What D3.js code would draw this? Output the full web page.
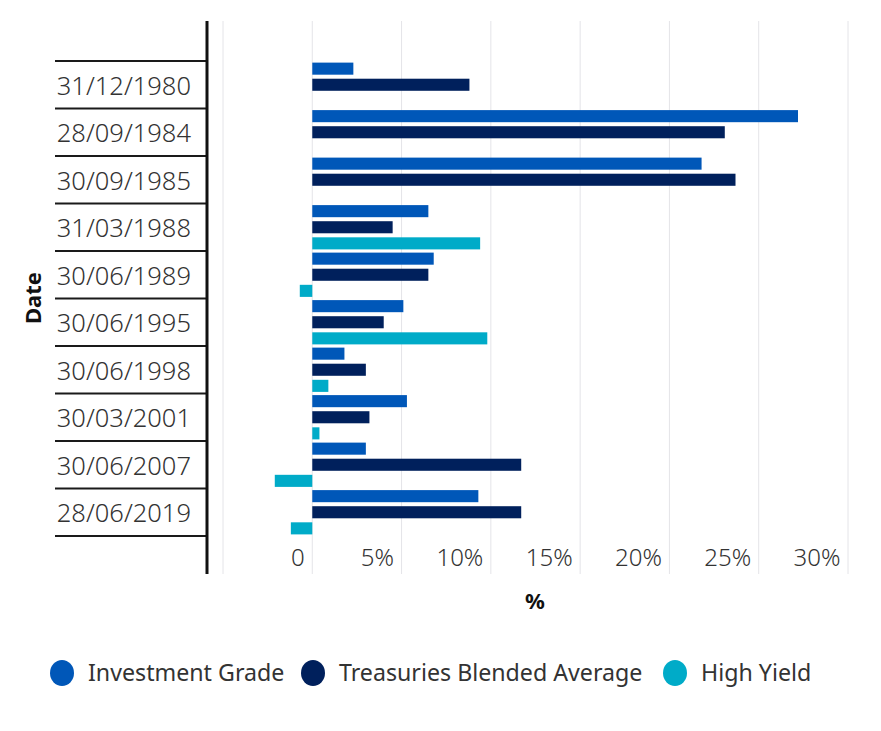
<!DOCTYPE html>
<html>
<head>
<meta charset="utf-8">
<script src="https://cdn.jsdelivr.net/npm/d3@7"></script>
<style>
  html, body { margin: 0; padding: 0; background: #fff; }
  svg { display: block; }
</style>
</head>
<body>
<svg id="chart" width="881" height="731"></svg>
<script>
// ---- data ----
const categories = ["31/12/1980","28/09/1984","30/09/1985","31/03/1988","30/06/1989","30/06/1995","30/06/1998","30/03/2001","30/06/2007","28/06/2019"];
const seriesNames = ["Investment Grade","Treasuries Blended Average","High Yield"];
const investmentGrade = [2.3, 27.2, 21.8, 6.5, 6.8, 5.1, 1.8, 5.3, 3.0, 9.3];
const treasuriesBlended = [8.8, 23.1, 23.7, 4.5, 6.5, 4.0, 3.0, 3.2, 11.7, 11.7];
const highYield = [null, null, null, 9.4, -0.7, 9.8, 0.9, 0.4, -2.1, -1.2];
const xTickValues = [0, 5, 10, 15, 20, 25, 30];
const xTickLabels = ["0", "5%", "10%", "15%", "20%", "25%", "30%"];
const gridValues = [-5, 0, 5, 10, 15, 20, 25, 30];
const colors = ["#0057b8", "#00205c", "#00abc8"];

const seriesValues = [investmentGrade, treasuriesBlended, highYield];

const svg = d3.select("#chart");
const FONT = "'Noto Sans', sans-serif";

const x = d3.scaleLinear().domain([-5, 30]).range([223, 848]);
const y = d3.scaleBand().domain(categories).range([61, 536]).padding(0);
const ySub = d3.scaleBand().domain(seriesNames).range([0, y.bandwidth()])
  .paddingInner(0.25).paddingOuter(0.1);

const plotTop = 21, plotBottom = 574;

// gridlines
svg.append("g").selectAll("line").data(gridValues).join("line")
  .attr("x1", d => x(d)).attr("x2", d => x(d))
  .attr("y1", plotTop).attr("y2", plotBottom)
  .attr("stroke", "#e4e4e8").attr("stroke-width", 1);

// bars
const gBars = svg.append("g");
seriesNames.forEach((name, si) => {
  gBars.append("g").selectAll("rect")
    .data(categories.map((c, i) => ({ c, v: seriesValues[si][i] })).filter(d => d.v !== null))
    .join("rect")
    .attr("x", d => x(Math.min(0, d.v)))
    .attr("width", d => Math.abs(x(d.v) - x(0)))
    .attr("y", d => y(d.c) + ySub(name))
    .attr("height", ySub.bandwidth())
    .attr("fill", colors[si]);
});

// x axis tick labels
const xAxis = d3.axisBottom(x).tickValues(xTickValues)
  .tickFormat((d, i) => xTickLabels[i]).tickSize(0);
const gx = svg.append("g").attr("transform", `translate(0, 558)`).call(xAxis);
gx.select(".domain").remove();
gx.selectAll("text")
  .attr("text-anchor", "end")
  .attr("dx", -8)
  .attr("dy", "0.35em")
  .attr("y", 0)
  .attr("fill", "#333")
  .style("font-family", FONT)
  .style("font-weight", 300)
  .style("font-size", "24px");

// y axis: category separators and labels
const sepVals = categories.map(c => y(c)).concat([y.range()[1]]);
svg.append("g").selectAll("line").data(sepVals).join("line")
  .attr("x1", 55).attr("x2", 207)
  .attr("y1", d => d).attr("y2", d => d)
  .attr("stroke", "#1a1a1a").attr("stroke-width", 2);

const yAxis = d3.axisLeft(y).tickSize(0);
const gy = svg.append("g").attr("transform", "translate(191,2)").call(yAxis);
gy.select(".domain").remove();
gy.selectAll("text")
  .attr("x", 0)
  .attr("fill", "#333")
  .style("font-family", FONT)
  .style("font-weight", 300)
  .style("font-size", "25.5px");

// vertical axis line
svg.append("line")
  .attr("x1", 207).attr("x2", 207).attr("y1", plotTop).attr("y2", plotBottom)
  .attr("stroke", "#111").attr("stroke-width", 3);

// axis titles
svg.append("text")
  .attr("x", 535).attr("y", 601).attr("dy", "0.35em")
  .attr("text-anchor", "middle")
  .style("font-family", FONT).style("font-weight", 700).style("font-size", "22px")
  .attr("fill", "#111").text("%");
svg.append("text")
  .attr("transform", "translate(33,298) rotate(-90)")
  .attr("dy", "0.35em")
  .attr("text-anchor", "middle")
  .style("font-family", FONT).style("font-weight", 700).style("font-size", "22px")
  .attr("fill", "#111").text("Date");

// legend
const legendX = [62, 313, 675];
const legend = svg.append("g");
seriesNames.forEach((name, i) => {
  const g = legend.append("g").attr("transform", `translate(${legendX[i]},673)`);
  g.append("ellipse").attr("rx", 12).attr("ry", 13).attr("fill", colors[i]);
  g.append("text").attr("x", 26).attr("dy", "0.35em")
    .style("font-family", FONT).style("font-size", "23.2px")
    .attr("fill", "#333").text(name);
});
</script>
</body>
</html>
